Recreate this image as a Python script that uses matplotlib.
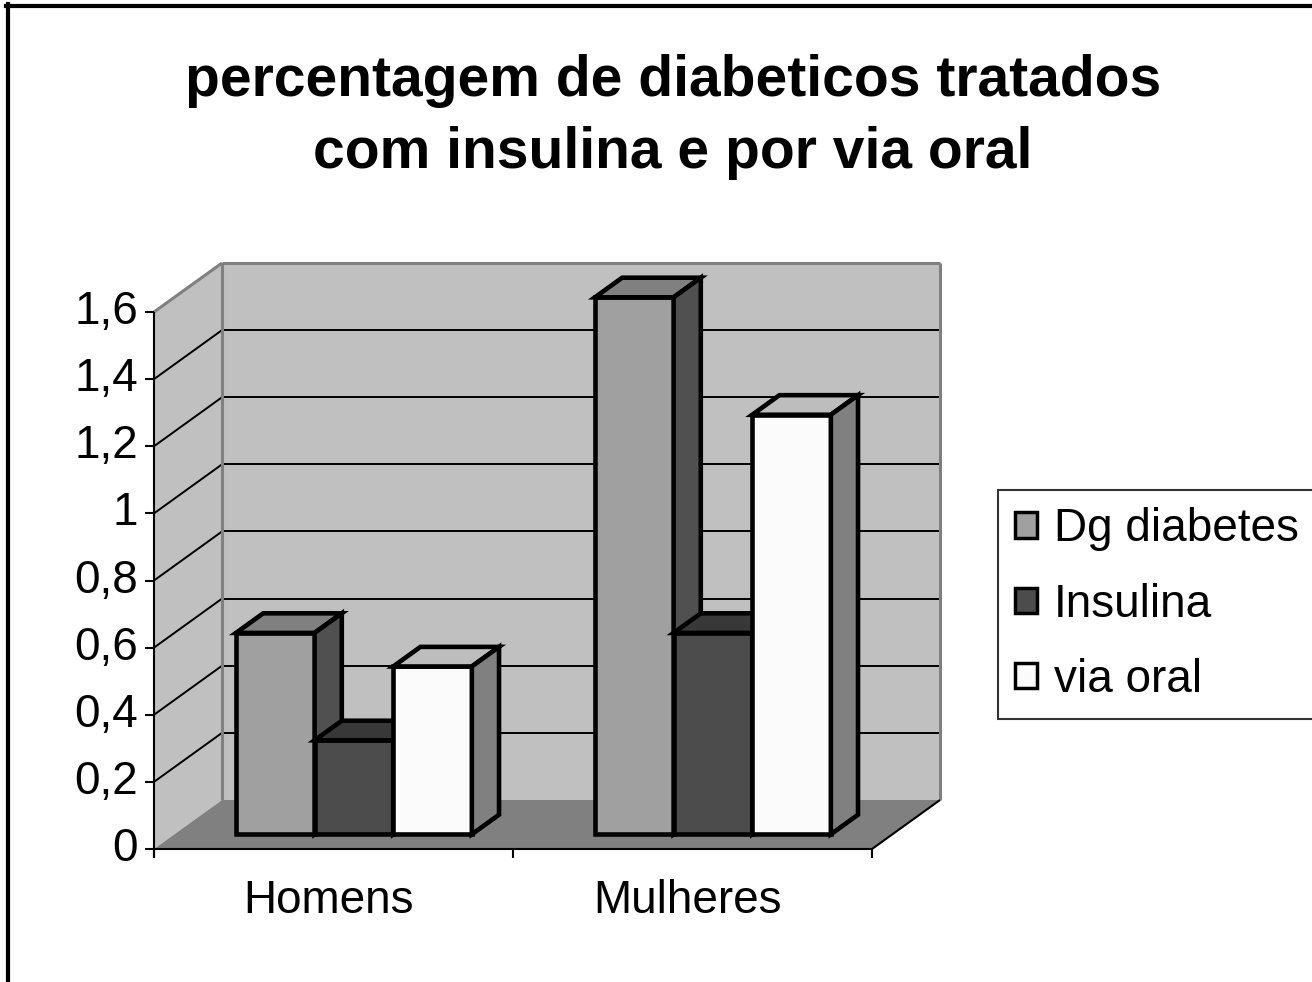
import matplotlib
matplotlib.use("Agg")
import matplotlib.pyplot as plt
from matplotlib.patches import Polygon, Patch
from matplotlib.lines import Line2D

plt.rcParams['font.family'] = ['Liberation Sans', 'DejaVu Sans']

# ---- data ----
categories = ["Homens", "Mulheres"]
series_names = ["Dg diabetes", "Insulina", "via oral"]
values = {
    "Dg diabetes": [0.6, 1.6],
    "Insulina": [0.28, 0.6],
    "via oral": [0.5, 1.25],
}
y_ticks = [0, 0.2, 0.4, 0.6, 0.8, 1.0, 1.2, 1.4, 1.6]
y_tick_labels = ["0", "0,2", "0,4", "0,6", "0,8", "1", "1,2", "1,4", "1,6"]
title = "percentagem de diabeticos tratados\ncom insulina e por via oral"

# face colours: front, top, side
colors = {
    "Dg diabetes": ("#A0A0A0", "#808080", "#505050"),
    "Insulina": ("#4C4C4C", "#383838", "#262626"),
    "via oral": ("#FBFBFB", "#BDBDBD", "#808080"),
}

W, H = 1312, 982
fig = plt.figure(figsize=(W / 100, H / 100), dpi=100)
fig.patch.set_facecolor("white")

# 3D oblique depth offsets (data units for full depth)
DX = 0.1894
DY = 0.146
YMAX = y_ticks[-1]
NC = len(categories)

ax = fig.add_axes([154 / W, (H - 849) / H, 786 / W, 586 / H])
ax.set_xlim(0, NC + DX)
ax.set_ylim(0, YMAX + DY)
ax.axis("off")


def P(x, y, z):
    return (x + z * DX, y + z * DY)


def poly(pts, fc, ec="none", lw=0, z=1):
    p = Polygon(pts, closed=True, facecolor=fc, edgecolor=ec, linewidth=lw,
                joinstyle="miter", clip_on=False, zorder=z)
    ax.add_patch(p)


def seg(p0, p1, color, lw, z=2):
    ax.plot([p0[0], p1[0]], [p0[1], p1[1]], color=color, lw=lw,
            solid_capstyle="butt", clip_on=False, zorder=z)


wall = "#C0C0C0"
floor = "#808080"
edge = "#808080"

# side wall
poly([P(0, 0, 0), P(0, YMAX, 0), P(0, YMAX, 1), P(0, 0, 1)], wall)
# back wall
poly([P(0, 0, 1), P(NC, 0, 1), P(NC, YMAX, 1), P(0, YMAX, 1)], wall)
# floor
poly([P(0, 0, 0), P(NC, 0, 0), P(NC, 0, 1), P(0, 0, 1)], floor)

# gridlines
for v in y_ticks[1:-1]:
    seg(P(0, v, 0), P(0, v, 1), "black", 1.4)
    seg(P(0, v, 1), P(NC, v, 1), "black", 1.4)

# wall edges
seg(P(0, YMAX, 0), P(0, YMAX, 1), edge, 2.2)
seg(P(0, YMAX, 1), P(NC, YMAX, 1), edge, 2.2)
seg(P(NC, YMAX, 1), P(NC, 0, 1), edge, 2.2)
seg(P(0, 0, 1), P(0, YMAX, 1), edge, 2.2)
# floor right edge
seg(P(NC, 0, 0), P(NC, 0, 1), "black", 1.5)

# axes lines
seg(P(0, -0.027, 0), P(0, YMAX, 0), "black", 1.5, z=3)
seg(P(0, 0, 0), P(NC, 0, 0), "black", 1.5, z=3)
tick_dx = 0.026
for v in y_ticks:
    seg((-tick_dx, v), (0, v), "black", 1.5, z=3)
for i in range(NC + 1):
    seg((i, 0), (i, -0.027), "black", 1.5, z=3)

# tick labels
for v, lab in zip(y_ticks, y_tick_labels):
    ax.text(-0.045, v, lab, ha="right", va="center", fontsize=33)
for i, c in enumerate(categories):
    ax.text(i + 0.485, -0.155, c, ha="center", va="center", fontsize=33)

# bars
BW = 0.219
Z0, Z1 = 0.3, 0.7
ns = len(series_names)
for i in range(NC):
    for j, s in enumerate(series_names):
        v = values[s][i]
        x0 = i + 0.5 - ns * BW / 2 + j * BW
        x1 = x0 + BW
        fc, tc, sc = colors[s]
        zo = 5 + i * 10 + j
        poly([P(x0, 0, Z0), P(x1, 0, Z0), P(x1, v, Z0), P(x0, v, Z0)],
             fc, "black", 3.3, zo)
        poly([P(x0, v, Z0), P(x1, v, Z0), P(x1, v, Z1), P(x0, v, Z1)],
             tc, "black", 3.3, zo)
        poly([P(x1, 0, Z0), P(x1, 0, Z1), P(x1, v, Z1), P(x1, v, Z0)],
             sc, "black", 3.3, zo)

# title
fig.text(673 / W, 1 - 117 / H, title, ha="center", va="center",
         fontsize=41, fontweight="bold", linespacing=1.45)

# legend
handles = [Patch(facecolor=colors[s][0], edgecolor="black", linewidth=2.5)
           for s in series_names]
leg = fig.legend(handles, series_names, loc="upper left",
                 bbox_to_anchor=(998 / W, 1 - 490 / H),
                 bbox_transform=fig.transFigure, fontsize=33,
                 frameon=True, fancybox=False, borderaxespad=0,
                 handlelength=0.48, handleheight=0.48, handletextpad=0.36,
                 labelspacing=0.68, borderpad=0.38)
leg.get_frame().set_edgecolor("black")
leg.get_frame().set_linewidth(1.5)

# outer frame (right and bottom edges fall outside the image)
fig.add_artist(Line2D([6 / W, 1.01], [1 - 6 / H, 1 - 6 / H], color="black",
                      lw=3, transform=fig.transFigure))
fig.add_artist(Line2D([8 / W, 8 / W], [1 - 4 / H, -0.01], color="black",
                      lw=3, transform=fig.transFigure))

fig.savefig("out.png", dpi=100)
